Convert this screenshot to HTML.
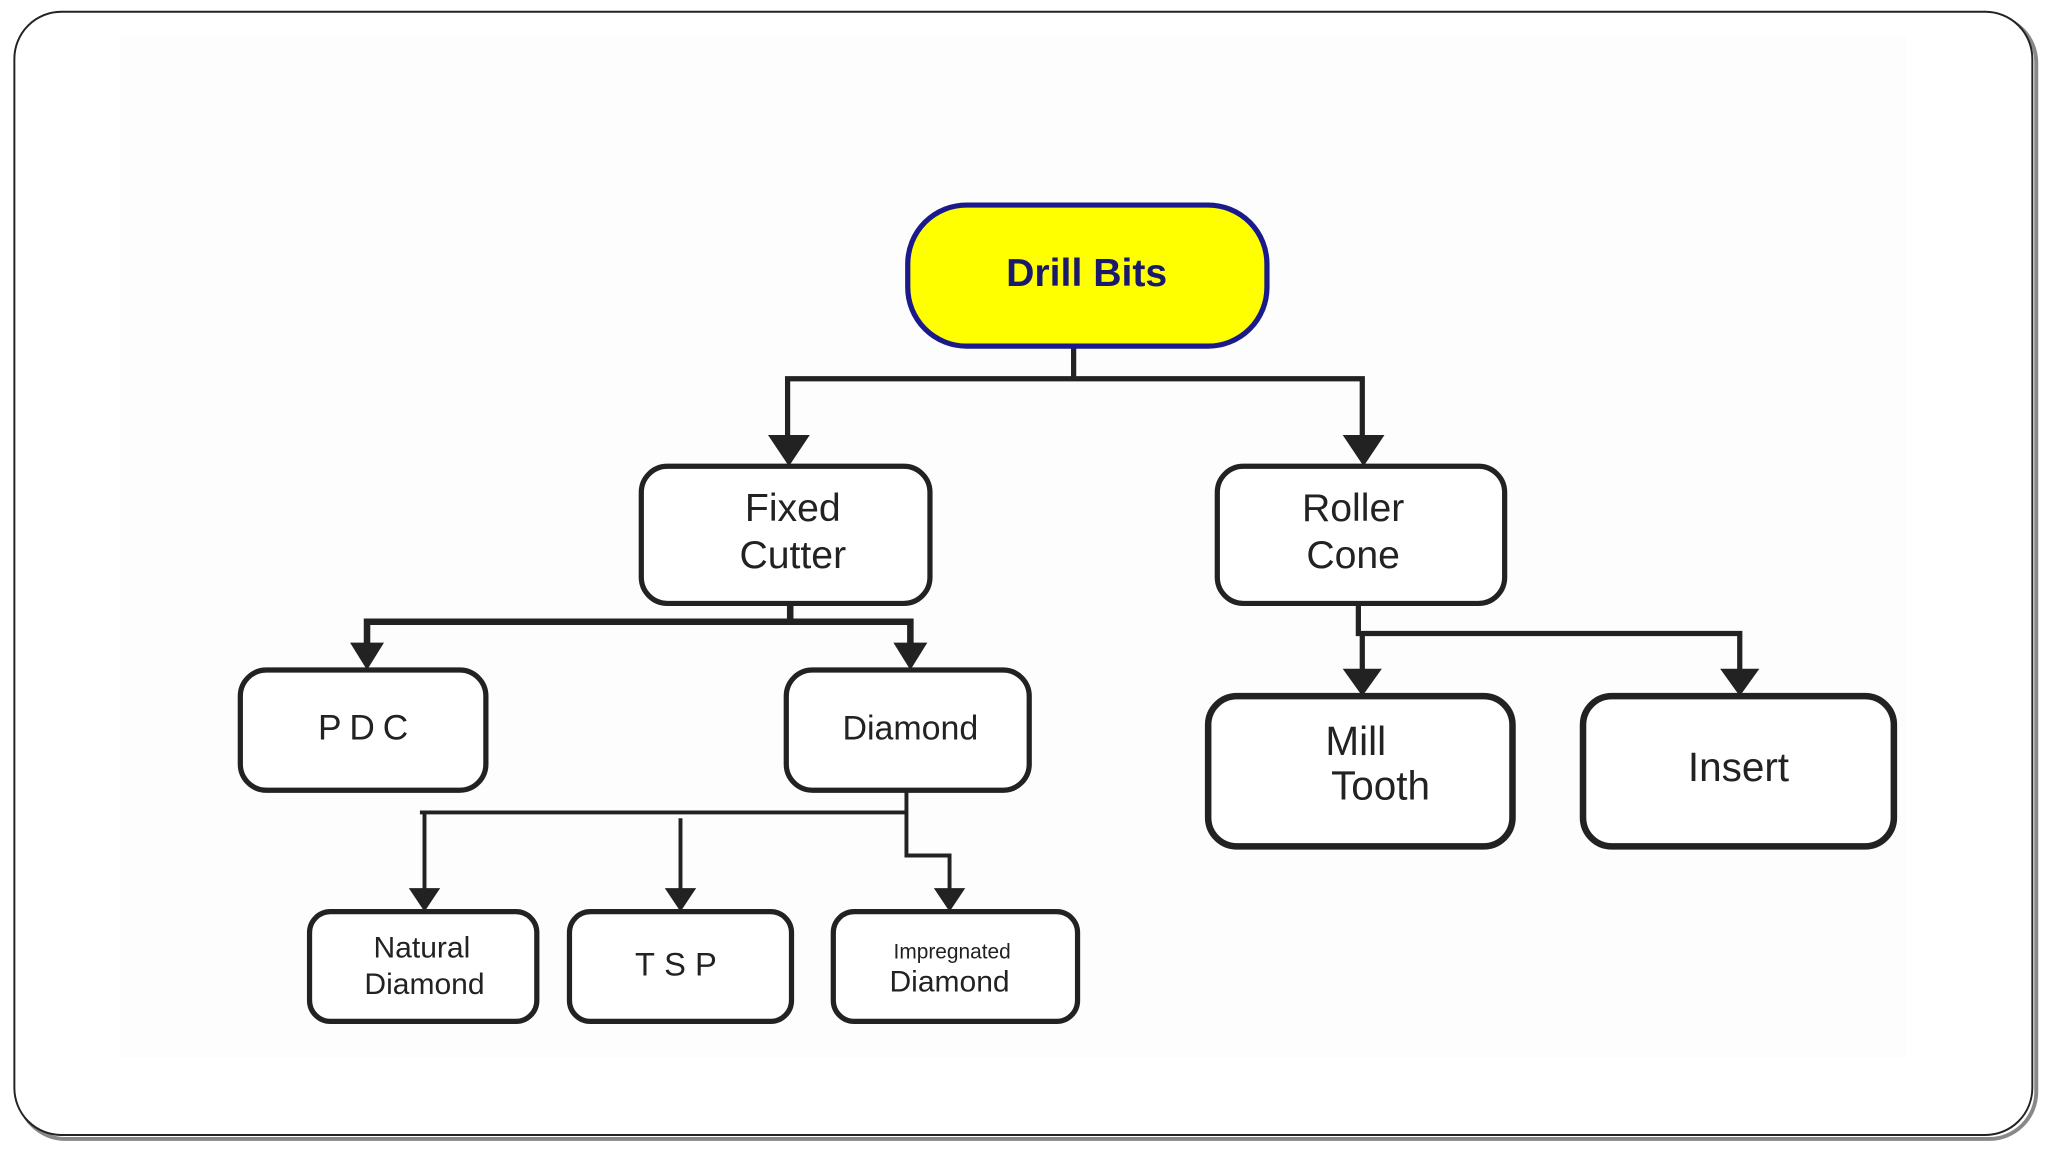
<!DOCTYPE html>
<html><head><meta charset="utf-8"><style>
html,body{margin:0;padding:0;background:#fff;}
svg{display:block}
text{font-family:"Liberation Sans",sans-serif;fill:#222;}
</style></head><body>
<svg width="2048" height="1152" viewBox="0 0 1568 882" preserveAspectRatio="none" xmlns="http://www.w3.org/2000/svg">
<rect x="0" y="0" width="1568" height="882" fill="#fff"/>
<rect x="14" y="12" width="1545" height="860" rx="36" fill="none" stroke="#888" stroke-width="3"/>
<rect x="11" y="9" width="1545" height="860" rx="36" fill="#fff" stroke="#222" stroke-width="1.5"/>
<rect x="92" y="28" width="1368" height="782" fill="#fdfdfd"/>
<g stroke="#222" fill="none" stroke-linecap="square">
<path d="M822 265V290M603 290H1043M603 290V340M1043 290V340" stroke-width="4"/>
<path d="M605 462V476M281 476H697M281 476V495M697 476V495" stroke-width="5"/>
<path d="M694 605V622M323 622H694M325 622V682M521 628V682M694 622V655H727V682" stroke-width="3"/>
<path d="M1040 462V485H1332M1043 485V515M1332 485V515" stroke-width="4"/>
</g>
<g fill="#222">
<path d="M588 333H620L604 357Z"/><path d="M1028 333H1060L1044 357Z"/>
<path d="M268 492H294L281 513Z"/><path d="M684 492H710L697 513Z"/>
<path d="M313 680H337L325 698Z"/><path d="M509 680H533L521 698Z"/><path d="M715 680H739L727 698Z"/>
<path d="M1028 512H1058L1043 533Z"/><path d="M1317 512H1347L1332 533Z"/>
</g>
<rect x="695" y="157" width="275" height="108" rx="45" fill="#ffff00" stroke="#1a1a8c" stroke-width="4"/>
<text x="832" y="219" font-size="30" font-weight="bold" text-anchor="middle" style="fill:#1a1a6c">Drill Bits</text>
<g fill="#fff" stroke="#222" stroke-width="4">
<rect x="491" y="357" width="221" height="105" rx="20"/>
<rect x="932" y="357" width="220" height="105" rx="20"/>
<rect x="184" y="513" width="188" height="92" rx="20"/>
<rect x="602" y="513" width="186" height="92" rx="20"/>
<rect x="237" y="698" width="174" height="84" rx="16"/>
<rect x="436" y="698" width="170" height="84" rx="16"/>
<rect x="638" y="698" width="187" height="84" rx="16"/>
<rect x="925" y="533" width="233" height="115" rx="22" stroke-width="5"/>
<rect x="1212" y="533" width="238" height="115" rx="22" stroke-width="5"/>
</g>
<g text-anchor="middle">
<text x="607" y="399" font-size="30">Fixed</text>
<text x="607" y="435" font-size="30">Cutter</text>
<text x="1036" y="399" font-size="30">Roller</text>
<text x="1036" y="435" font-size="30">Cone</text>
<text x="281" y="566" font-size="27" letter-spacing="6">PDC</text>
<text x="697" y="566" font-size="26">Diamond</text>
<text x="323" y="733" font-size="23">Natural</text>
<text x="325" y="761" font-size="23">Diamond</text>
<text x="521" y="747" font-size="25" letter-spacing="7">TSP</text>
<text x="729" y="734" font-size="16">Impregnated</text>
<text x="727" y="759" font-size="23">Diamond</text>
<text x="1038" y="578" font-size="31">Mill</text>
<text x="1057" y="612" font-size="31">Tooth</text>
<text x="1331" y="598" font-size="31">Insert</text>
</g>
</svg>
</body></html>
